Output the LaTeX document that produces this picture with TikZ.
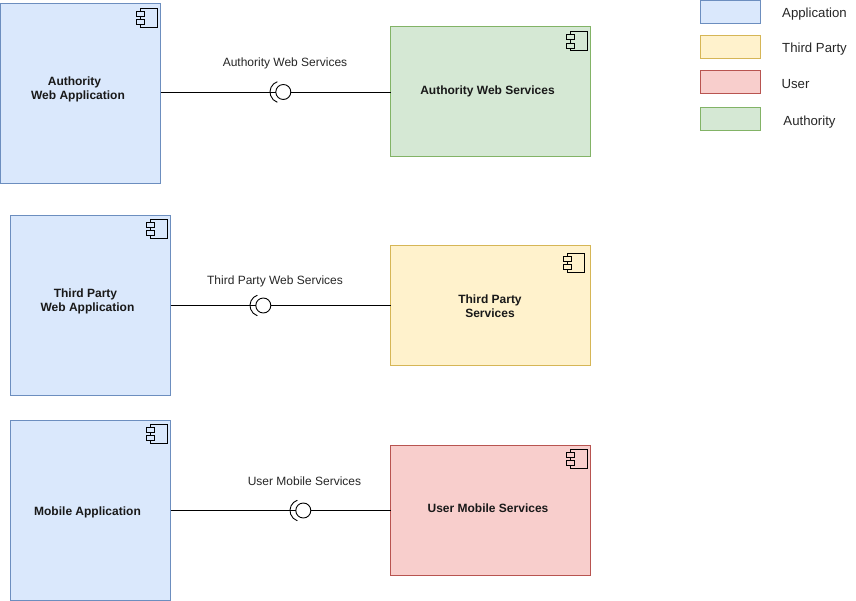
\documentclass[tikz,border=0pt]{standalone}
\usepackage{fontspec}
\setmainfont{Liberation Sans}
\usetikzlibrary{calc}
\definecolor{appfill}{HTML}{DAE8FC}\definecolor{appline}{HTML}{6C8EBF}
\definecolor{tpfill}{HTML}{FFF2CC}\definecolor{tpline}{HTML}{D6B656}
\definecolor{userfill}{HTML}{F8CECC}\definecolor{userline}{HTML}{B85450}
\definecolor{authfill}{HTML}{D5E8D4}\definecolor{authline}{HTML}{82B366}
\tikzset{
  x=1pt,y=-1pt,
  every node/.style={inner sep=0pt,outer sep=0pt},
  compbox/.style={draw,line width=0.9pt,anchor=north west},
  app/.style={compbox,fill=appfill,draw=appline},
  tp/.style={compbox,fill=tpfill,draw=tpline},
  usr/.style={compbox,fill=userfill,draw=userline},
  auth/.style={compbox,fill=authfill,draw=authline},
  lbl/.style={font=\fontsize{12}{14}\selectfont,align=center,text=black!85},
  keylbl/.style={font=\fontsize{13.2}{15}\selectfont,align=center,text=black!85},
  blbl/.style={font=\fontsize{12}{14}\selectfont\bfseries,align=center,text=black!90},
  ball/.style={circle,draw,line width=0.9pt,minimum size=15pt,fill=white},
  conn/.style={draw=black,line width=0.9pt},
  iconline/.style={draw=black,line width=0.9pt},
  socketline/.style={draw=black,line width=0.9pt,fill=none},
}
% #1 box name, #2 fill colour, #3 offset from the box's north east corner
\newcommand{\compicon}[3]{%
  \begin{scope}[shift={($(#1.north east)+(#3)$)}]
    \draw[iconline] (-20,4.5) rectangle (-3.5,23.5);
    \draw[iconline,fill=#2] (-24,7.5) rectangle (-16,12.5);
    \draw[iconline,fill=#2] (-24,16) rectangle (-16,21);
  \end{scope}}
\newcommand{\socket}[1]{%
  \draw[socketline] ($(#1.center)+(-5.95,-10.3)$) arc[start angle=-109,end angle=-251,radius=10.9];}
\begin{document}
\begin{tikzpicture}
\useasboundingbox (0,0) rectangle (856,601);
% application boxes
\node[app,minimum width=160pt,minimum height=180pt] (authapp) at (0.5,3.5) {};
\node[app,minimum width=160pt,minimum height=180pt] (tpapp) at (10.5,215.5) {};
\node[app,minimum width=160pt,minimum height=180pt] (mobapp) at (10.5,420.5) {};
% service boxes
\node[auth,minimum width=200pt,minimum height=130pt] (authsvc) at (390.5,26.5) {};
\node[tp,minimum width=200pt,minimum height=120pt] (tpsvc) at (390.5,245.5) {};
\node[usr,minimum width=200pt,minimum height=130pt] (usrsvc) at (390.5,445.5) {};
% icons
\compicon{authapp}{appfill}{0,0}
\compicon{tpapp}{appfill}{0,-1}
\compicon{mobapp}{appfill}{0,-1}
\compicon{authsvc}{authfill}{0,0.5}
\compicon{tpsvc}{tpfill}{-3,3}
\compicon{usrsvc}{userfill}{0,-1}
% box labels
\node[blbl] (t1) at (78,89) {Authority\hspace*{7pt}\\Web Application};
\node[blbl] (t2) at (87.5,301) {Third Party\hspace*{4pt}\\Web Application};
\node[blbl] (t3) at (87.5,512.5) {Mobile Application};
\node[blbl] (t4) at (487.5,91) {Authority Web Services};
\node[blbl] (t5) at (490,306) {Third Party\\Services};
\node[blbl] (t6) at (488,508.5) {User Mobile Services};
% balls
\node[ball] (b1) at (283.3,92) {};
\node[ball] (b2) at (263.3,305.5) {};
\node[ball] (b3) at (303.3,510.5) {};
% connectors
\draw[conn] (authapp.east |- b1.west) -- (b1.west);
\draw[conn] (b1.east) -- (b1.east -| authsvc.west);
\draw[conn] (tpapp.east |- b2.west) -- (b2.west);
\draw[conn] (b2.east) -- (b2.east -| tpsvc.west);
\draw[conn] (mobapp.east |- b3.west) -- (b3.west);
\draw[conn] (b3.east) -- (b3.east -| usrsvc.west);
\socket{b1}\socket{b2}\socket{b3}
% interface labels
\node[lbl] (l1) at (285,63.5) {Authority Web Services};
\node[lbl] (l2) at (275,281) {Third Party Web Services};
\node[lbl] (l3) at (304.5,481) {User Mobile Services};
% legend
\node[app,minimum width=60pt,minimum height=23pt] (k1) at (700.5,0.5) {};
\node[tp,minimum width=60pt,minimum height=23pt] (k2) at (700.5,35.5) {};
\node[usr,minimum width=60pt,minimum height=23pt] (k3) at (700.5,70.5) {};
\node[auth,minimum width=60pt,minimum height=23pt] (k4) at (700.5,107.5) {};
\node[keylbl] (k1t) at (814.5,14) {Application};
\node[keylbl] (k2t) at (814.5,49) {Third Party};
\node[keylbl] (k3t) at (795.5,84) {User};
\node[keylbl] (k4t) at (809.5,122.5) {Authority};
\end{tikzpicture}
\end{document}
